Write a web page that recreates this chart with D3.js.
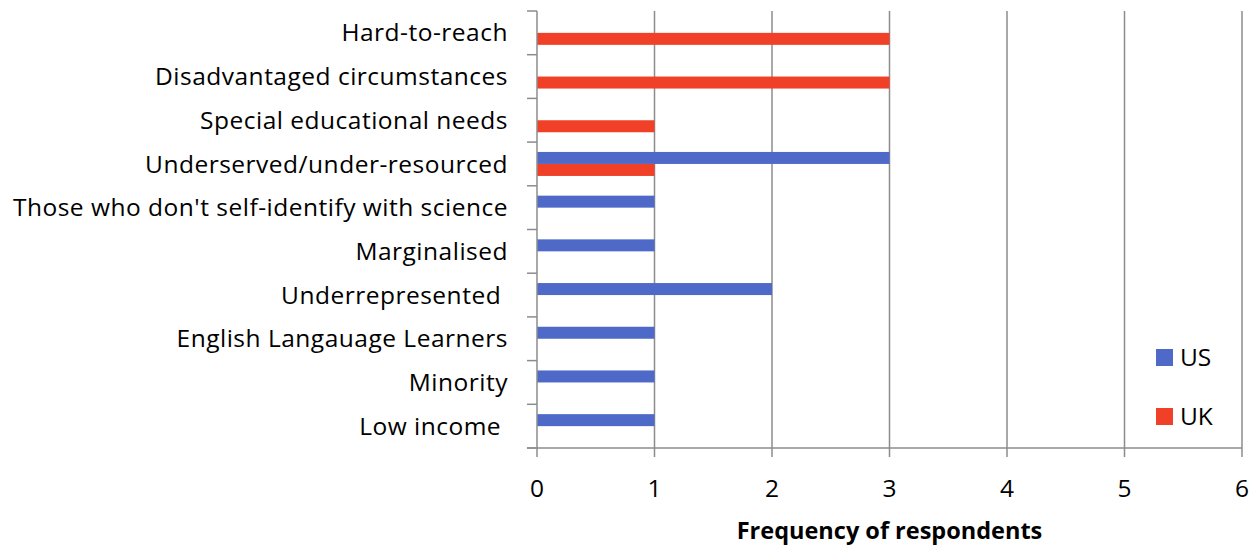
<!DOCTYPE html>
<html><head><meta charset="utf-8">
<script src="https://cdn.jsdelivr.net/npm/d3@7"></script>
<style>body{margin:0;background:#fff;} text{font-family:"Open Sans","Noto Sans",sans-serif;}</style>
</head><body><svg id="c" width="1256" height="548"></svg>
<script>
const categories = ["Hard-to-reach","Disadvantaged circumstances","Special educational needs","Underserved/under-resourced","Those who don't self-identify with science","Marginalised","Underrepresented ","English Langauage Learners","Minority","Low income "];
const usValues = [0,0,0,3,1,1,2,1,1,1];
const ukValues = [3,3,1,1,0,0,0,0,0,0];
const seriesNames = ["US","UK"];
const xTicks = [0,1,2,3,4,5,6];
const xTitle = "Frequency of respondents";

const colors = {US:"#4F69C9", UK:"#F04128"};
const svg = d3.select("#c");
const pL = 537, pR = 1242, pT = 11, pB = 448;
const x = d3.scaleLinear().domain([0,6]).range([pL,pR]);
const y = d3.scaleBand().domain(categories).range([pT,pB]);
const inner = d3.scaleBand().domain(seriesNames).range([0,24]);
const barOff = (y.bandwidth()-24)/2;
const grid = "#8c8c8c";

// gridlines
svg.append("g").selectAll("line").data(xTicks.slice(1)).join("line")
  .attr("x1",d=>x(d)).attr("x2",d=>x(d)).attr("y1",pT).attr("y2",pB+9)
  .attr("stroke",grid).attr("stroke-width",1.5);

// bars
const rows = categories.map((c,i)=>({c, US:usValues[i], UK:ukValues[i]}));
seriesNames.forEach(s=>{
  svg.append("g").selectAll("rect").data(rows.filter(r=>r[s]>0)).join("rect")
    .attr("x",x(0)).attr("width",d=>x(d[s])-x(0))
    .attr("y",d=>y(d.c)+barOff+inner(s)).attr("height",inner.bandwidth())
    .attr("fill",colors[s]);
});

// y axis
const yAxis = svg.append("g");
yAxis.append("line").attr("x1",pL).attr("x2",pL).attr("y1",pT).attr("y2",pB+9).attr("stroke",grid).attr("stroke-width",1.5);
const bounds = d3.range(categories.length+1).map(i=>pT+i*y.step());
yAxis.selectAll("line.t").data(bounds).join("line").attr("class","t")
  .attr("x1",pL-10).attr("x2",pL).attr("y1",d=>d).attr("y2",d=>d)
  .attr("stroke",grid).attr("stroke-width",1.5);
// x axis line
svg.append("line").attr("x1",pL-10).attr("x2",pR).attr("y1",pB).attr("y2",pB).attr("stroke",grid).attr("stroke-width",1.5);

// y labels
const fs = 24.5;
svg.append("g").selectAll("text").data(categories).join("text")
  .attr("x",508).attr("y",d=>y(d)+y.bandwidth()/2).attr("dy","0.35em")
  .attr("text-anchor","end").attr("font-size",fs).attr("fill","#000")
  .attr("letter-spacing",0.5)
  .style("white-space","pre").text(d=>d);

// x labels
svg.append("g").selectAll("text").data(xTicks).join("text")
  .attr("x",d=>x(d)).attr("y",497).attr("text-anchor","middle")
  .attr("font-size",fs).text(d=>d);

svg.append("text").attr("x",(pL+pR)/2).attr("y",539).attr("text-anchor","middle")
  .attr("font-size",23.5).attr("font-weight","bold").text(xTitle);

// legend
const leg = svg.append("g").selectAll("g").data(seriesNames).join("g")
  .attr("transform",(d,i)=>`translate(1156,${349+i*59})`);
leg.append("rect").attr("width",17).attr("height",17).attr("fill",d=>colors[d]);
leg.append("text").attr("x",24).attr("y",8.5).attr("dy","0.35em").attr("font-size",fs).text(d=>d);
</script></body></html>
